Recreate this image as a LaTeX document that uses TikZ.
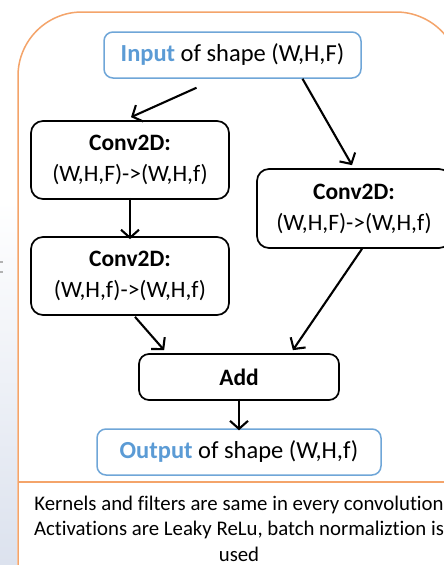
\documentclass[tikz,border=0pt]{standalone}
\usepackage{fontspec}
\setmainfont{Carlito}[Ligatures=NoCommon]
\usetikzlibrary{arrows.meta,shapes.misc}
\definecolor{frameorange}{HTML}{F4A46A}
\definecolor{boxblue}{HTML}{6FA6D8}
\definecolor{txtblue}{HTML}{5B9BD5}
\definecolor{stripgrey}{HTML}{DCE2EE}
\tikzset{
  blk/.style={draw=black, line width=1.7pt, rounded corners=12pt, align=center,
     font=\fontsize{23.5}{31}\selectfont, inner sep=0pt},
  iobox/.style={draw=boxblue, line width=1.5pt, rounded corners=9pt, align=center,
     font=\fontsize{24.5}{28}\selectfont, inner sep=0pt},
  arr/.style={line width=2.1pt, -{Straight Barb[length=8pt,width=18pt,line width=2.1pt]}},
  note/.style={align=center, font=\fontsize{20.8}{25.5}\selectfont, inner sep=0pt}
}
\begin{document}
\begin{tikzpicture}[x=1pt,y=-1pt]
\useasboundingbox (0,0) rectangle (444,565);
\clip (0,0) rectangle (444,565);
\fill[white] (0,0) rectangle (444,565);
% faint strip at left
\shade[top color=white, bottom color=stripgrey] (0,200) rectangle (17,565);
\fill[gray!60] (0,261) rectangle (3,263);
\fill[gray!60] (0,271) rectangle (3,273);
% orange frame
\draw[frameorange, line width=1.5pt, rounded corners=64pt] (18,620) -- (18,12) -- (460,12) -- (460,620);
\draw[frameorange, line width=1.5pt] (18,482) -- (460,482);
% nodes
\node[iobox, minimum width=257pt, minimum height=46pt] (in) at (232.5,55)
  {\textbf{\textcolor{txtblue}{Input}} of shape (W,H,F)};
\node[blk, minimum width=198pt, minimum height=78pt] (c1) at (130,160)
  {\textbf{Conv2D:}\\(W,H,F)->(W,H,f)};
\node[blk, minimum width=198pt, minimum height=78pt] (c2) at (130,276)
  {\textbf{Conv2D:}\\(W,H,f)->(W,H,f)};
\node[blk, minimum width=194pt, minimum height=79pt] (rc) at (354,208.5)
  {\textbf{Conv2D:}\\(W,H,F)->(W,H,f)};
\node[blk, minimum width=200pt, minimum height=46pt, rounded corners=10pt] (add) at (239,377)
  {\textbf{Add}};
\node[iobox, minimum width=284pt, minimum height=46pt] (out) at (239,452)
  {\textbf{\textcolor{txtblue}{Output}} of shape (W,H,f)};
\node[note] (nt) at (239,528.5)
  {Kernels and filters are same in every convolution\\Activations are Leaky ReLu, batch normaliztion is\\used};
% connectors
\draw[arr] ([shift={(-36,9)}]in.south) -- ([shift={(1,-3)}]c1.north);
\draw[arr] ([shift={(70,0)}]in.south) -- ([shift={(-2,-3)}]rc.north);
\draw[arr] ([yshift=2]c1.south) -- ([yshift=-3]c2.north);
\draw[arr] ([shift={(5,1)}]c2.south) -- ([shift={(26,-3)}]add.north west);
\draw[arr] ([shift={(8,0)}]rc.south) -- ([shift={(-47,-3)}]add.north east);
\draw[arr] ([yshift=2]add.south) -- ([yshift=-2]out.north);
\end{tikzpicture}
\end{document}
